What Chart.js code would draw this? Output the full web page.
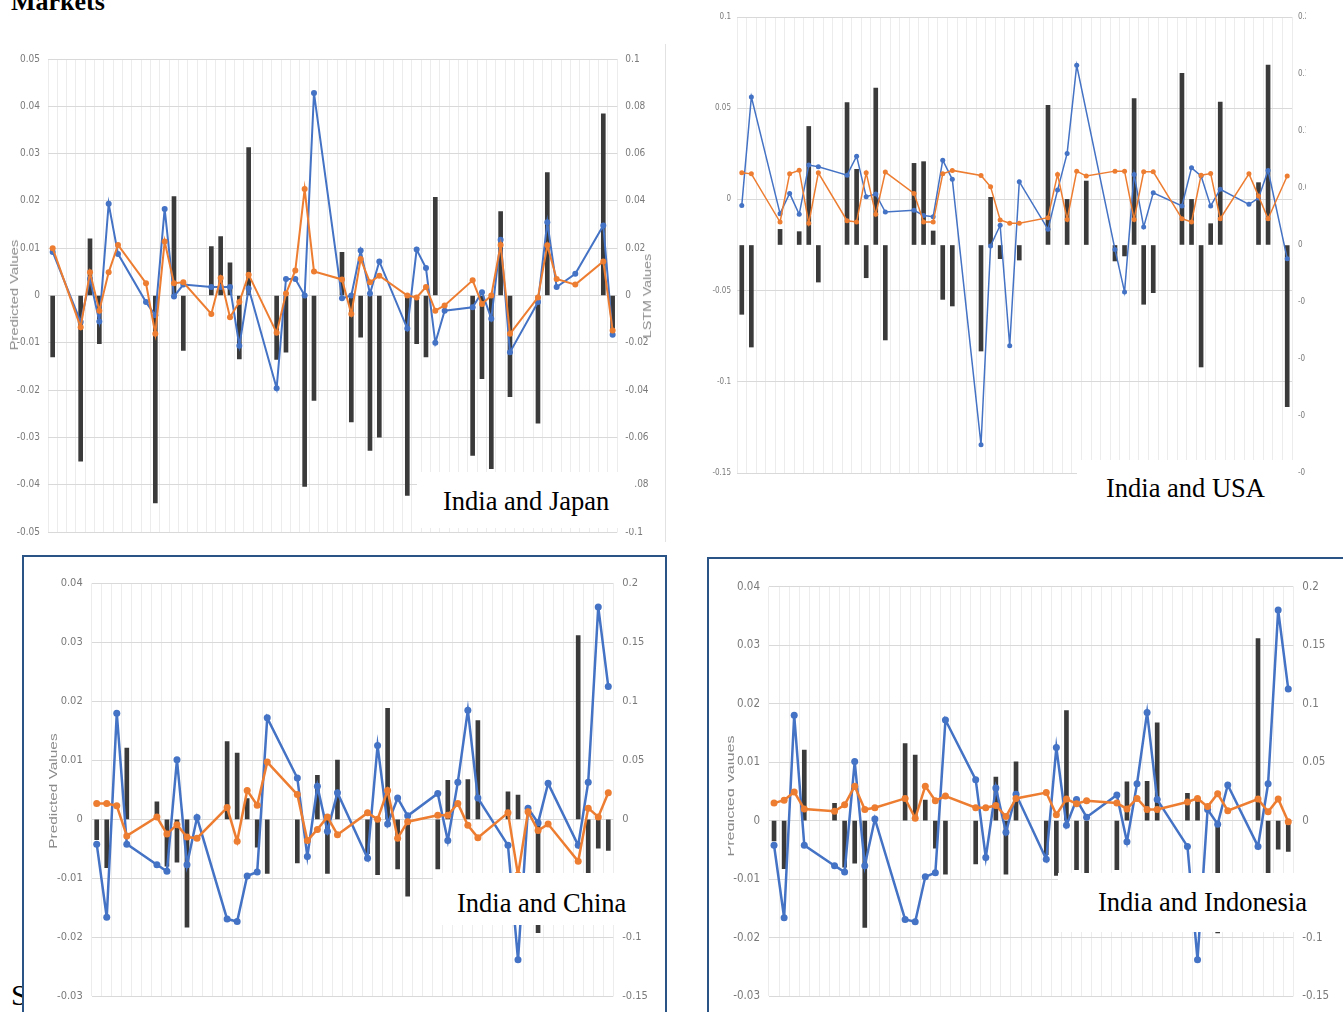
<!DOCTYPE html>
<html>
<head>
<meta charset="utf-8">
<script src="https://cdn.jsdelivr.net/npm/chart.js@4.4.1/dist/chart.umd.min.js"></script>
<style>
  html, body { margin: 0; padding: 0; }
  body { width: 1343px; height: 1012px; overflow: hidden; position: relative; background: #fff; }
  .abs { position: absolute; }
  canvas { position: absolute; }
  .frame { position: absolute; box-sizing: border-box; border: 2px solid #2a5485; background: #fff; }
  .box { position: absolute; background: #fff; }
  .lbl { position: absolute; white-space: nowrap; font-family: 'Liberation Serif', 'Times New Roman', serif; font-size: 26.5px; line-height: 26.5px; color: #000; }
  .vt { position: absolute; white-space: nowrap; text-align: center; font-family: 'Liberation Sans', Arial, sans-serif; color: #8a8a8a; }
</style>
</head>
<body>

<div class="abs" style="left:11px; top:-11px; font-family:'Liberation Serif',serif; font-weight:bold; font-size:26px; line-height:26px; color:#000;">Markets</div>
<div class="abs" style="left:11px; top:980px; font-family:'Liberation Serif',serif; font-size:30px; line-height:30px; color:#000;">S</div>

<div class="abs" style="left:665px; top:44px; width:1px; height:498px; background:#e2e2e2;"></div>
<div class="frame" style="left:22px; top:555px; width:645px; height:520px;"></div>
<div class="frame" style="left:707px; top:557px; width:700px; height:520px;"></div>

<canvas id="japan" width="660" height="510" style="left:0px; top:40px; width:660px; height:510px;"></canvas>
<canvas id="usa" width="616" height="520" style="left:690px; top:0px; width:616px; height:520px;"></canvas>
<canvas id="china" width="639" height="454" style="left:25px; top:558px; width:639px; height:454px;"></canvas>
<canvas id="indonesia" width="633" height="453" style="left:710px; top:559px; width:633px; height:453px;"></canvas>

<!-- axis titles -->
<div class="vt" style="left:-45px; top:289px; width:120px; height:12px; font-size:10px; line-height:12px; transform:rotate(-90deg) scaleX(1.48);">Predicted Values</div>
<div class="vt" style="left:588px; top:290px; width:120px; height:12px; font-size:10px; line-height:12px; transform:rotate(-90deg) scaleX(1.42);">LSTM Values</div>
<div class="vt" style="left:-7px; top:784px; width:120px; height:14px; font-size:11px; line-height:14px; transform:rotate(-90deg) scaleX(1.4);">Predicted Values</div>
<div class="abs" style="left:728px; top:700px; width:20px; height:200px; overflow:hidden;">
  <div class="vt" style="left:-58px; top:89px; width:120px; height:14px; font-size:11px; line-height:14px; transform:rotate(-90deg) scaleX(1.47);">Predicted Values</div>
</div>

<!-- label boxes -->
<div class="box" style="left:417px; top:472px; width:217px; height:56px;"></div>
<div class="lbl" style="left:443px; top:488px;">India and Japan</div>
<div class="box" style="left:1077px; top:460px; width:216px; height:55px;"></div>
<div class="lbl" style="left:1106px; top:475px;">India and USA</div>
<div class="box" style="left:433px; top:873px; width:218px; height:52px;"></div>
<div class="lbl" style="left:457px; top:890px;">India and China</div>
<div class="box" style="left:1058px; top:873px; width:278px; height:59px;"></div>
<div class="lbl" style="left:1098px; top:889px;">India and Indonesia</div>

<script>
// ---------------- DATA ----------------
// India and Japan (61 trading-day slots; null = no observation)
const japanBlue = [0.0092,null,null,-0.0056,0.0035,-0.0055,0.0194,0.0088,null,null,
  -0.0014,-0.0042,0.0183,-0.0002,0.0023,null,null,0.0018,0.0018,0.0018,
  -0.0106,0.0015,null,null,-0.0196,0.0035,0.0035,0,0.0428,null,
  null,-0.0006,0,0.0095,0.0004,0.0072,null,null,-0.007,0.0097,
  0.0058,-0.01,-0.0032,null,null,-0.0025,0.0007,-0.0049,0.0118,-0.012,
  null,null,-0.0014,0.0155,0.0018,null,0.0046,null,null,0.0148,
  -0.0083];
const japanOrange = [0.010,null,null,-0.0067,0.0049,-0.0032,0.0049,0.0107,null,null,
  0.0026,-0.0081,0.0114,0.0026,0.0028,null,null,-0.0039,0.0037,-0.0046,
  -0.0014,0.0044,null,null,-0.0079,0.0004,0.0053,0.0225,0.0051,null,
  null,0.0034,-0.0039,0.0077,0.0028,0.0042,null,null,0,-0.0004,
  0.0018,-0.0032,-0.0021,null,null,0.0032,-0.0018,0,0.0107,-0.0081,
  null,null,-0.0004,0.0106,0.0035,null,0.0023,null,null,0.0072,
  -0.0074];
const japanBars = [-0.026,null,null,-0.070,0.024,-0.0204,null,null,null,null,
  null,-0.0877,null,0.0418,-0.0232,null,null,0.0207,0.0249,0.0138,
  -0.0268,0.0625,null,null,-0.027,-0.024,null,-0.0807,-0.0444,null,
  null,0.0183,-0.0535,-0.0176,-0.0655,-0.0599,null,null,-0.0845,-0.0204,
  -0.026,0.0415,null,null,null,-0.0676,-0.0352,-0.0732,0.0355,-0.0428,
  null,null,-0.054,0.052,null,null,null,null,null,0.0768,
  -0.017];

// India and USA (58 slots)
const usaBlue = [-0.0033,0.0562,null,null,-0.0078,0.0033,-0.0082,0.0188,0.0179,null,
  null,0.0133,0.0237,0.0015,0.0029,-0.0069,null,null,-0.006,-0.0088,
  -0.0095,0.0215,0.011,null,null,-0.1345,-0.0255,-0.0142,-0.0803,0.0097,
  null,null,-0.0164,0.0051,0.0252,0.0735,null,null,null,-0.0274,
  -0.0507,0.0137,-0.0151,0.0036,null,null,-0.0036,0.0173,0.0128,-0.0036,
  0.0055,null,null,-0.0027,0.0007,0.0159,null,-0.0325];
const usaOrange = [0.0146,0.014,null,null,-0.0124,0.014,0.016,-0.0131,0.0146,null,
  null,-0.0117,-0.0124,0.0146,-0.0082,0.015,null,null,0.0033,-0.0124,
  -0.0124,0.014,0.0159,null,null,0.0131,0.0069,-0.0113,-0.0131,-0.0131,
  null,null,-0.01,0.0137,-0.011,0.0155,0.0128,null,null,0.0155,
  0.0155,-0.011,0.0151,0.0151,null,null,-0.0106,-0.0124,0.0133,0.0142,
  -0.0106,null,null,0.014,0.0018,-0.0106,null,0.0128];
const usaBars = [-0.0608,-0.0895,null,null,0.0137,null,0.0117,0.104,-0.0325,null,
  null,0.1249,0.0664,-0.0287,0.1377,-0.0833,null,null,0.0716,0.0731,
  0.0123,-0.0477,-0.0535,null,null,-0.093,0.0418,-0.012,null,-0.0132,
  null,null,0.1225,null,0.04,null,0.0561,null,null,-0.014,
  -0.0096,0.1284,-0.052,-0.0418,null,null,0.1506,0.04,-0.107,0.0187,
  0.1254,null,null,null,0.0547,0.1579,null,-0.1418];

// India and China / India and Indonesia (52 slots; blue series and bars identical in both panels)
const asiaBlue = [-0.0042,-0.0166,0.018,-0.0042,null,null,-0.0077,-0.0088,0.0101,-0.0077,
  0.0003,null,null,-0.0169,-0.0173,-0.0096,-0.0089,0.0172,null,null,
  0.007,-0.0063,0.0056,-0.002,0.0045,null,null,-0.0066,0.0125,-0.0008,
  0.0036,0.0006,null,null,0.0044,-0.0036,0.0063,0.0185,0.0036,null,
  null,-0.0044,-0.0238,0.0019,-0.0006,0.0061,null,null,-0.0044,0.0063,
  0.036,0.0225];
const asiaBars = [-0.0173,-0.041,null,0.0603,null,null,0.0148,-0.0397,-0.0363,-0.0913,
  null,null,null,0.0659,0.0561,0.0176,-0.0235,-0.0458,null,null,
  -0.0369,null,0.0372,-0.0458,0.0503,null,null,-0.029,-0.0468,0.094,
  -0.042,-0.065,null,null,-0.042,0.0331,null,0.0337,0.0836,null,
  null,0.0233,0.0205,null,-0.0959,null,null,null,0.1556,-0.06,
  -0.0244,-0.0264];
const chinaOrange = [0.0027,0.0027,0.0023,-0.0028,null,null,0.0004,-0.0025,-0.0009,-0.003,
  -0.0032,null,null,0.002,-0.0037,0.0049,0.0024,0.0097,null,null,
  0.0042,-0.0036,-0.0017,0.0004,-0.0026,null,null,0.0011,0,0.0049,
  -0.0032,-0.0004,null,null,0.0007,0.0007,0.0027,-0.001,-0.0031,null,
  null,0.0011,-0.0094,0.0013,-0.0019,-0.0008,null,null,-0.0071,0.0019,
  0.0004,0.0045];
const indonesiaOrange = [0.003,0.0035,0.0049,0.002,null,null,0.0016,0.0027,0.0059,0.0019,
  0.0022,null,null,0.0038,0.0004,0.0059,0.0034,0.0042,null,null,
  0.0022,0.0022,0.0026,0.0007,0.0038,null,null,0.0048,0.001,0.0037,
  0.0029,0.0034,null,null,0.003,0.002,0.0038,0.0019,0.0019,null,
  null,0.0032,0.0038,0.0024,0.0046,0.0017,null,null,0.0037,0.0015,
  0.0037,-0.0002];

// axis ranges [min, max, step]
const japanLeftAxis = [-0.05, 0.05, 0.01],  japanRightAxis = [-0.1, 0.1, 0.02];
const usaLeftAxis   = [-0.15, 0.1, 0.05],  usaRightAxis   = [-0.2, 0.2, 0.05];
const asiaLeftAxis  = [-0.03, 0.04, 0.01], asiaRightAxis  = [-0.15, 0.2, 0.05];

// ---------------- DRAWING ----------------
const BLUE = '#4472C4', ORANGE = '#ED7D31', BAR = '#3a3a3a';
const TICK_FONT = "'Liberation Sans Narrow','DejaVu Sans Condensed','Liberation Sans',sans-serif";
const fmt = v => String(parseFloat(Number(v).toFixed(4)));

function panel(id, s) {
  const labels = s.blue.map((_, i) => 'D' + (i + 1));
  const lineDs = (data, color, order) => ({
    type: 'line', data, yAxisID: 'y', order,
    borderColor: color, backgroundColor: color,
    pointBackgroundColor: color, pointBorderColor: color,
    borderWidth: s.lw, pointRadius: s.pr, pointBorderWidth: 0, pointHoverRadius: s.pr,
    spanGaps: true, tension: 0
  });
  new Chart(document.getElementById(id), {
    type: 'bar',
    data: {
      labels,
      datasets: [
        lineDs(s.orange, ORANGE, 0),
        lineDs(s.blue, BLUE, 1),
        { type: 'bar', data: s.bars, yAxisID: 'y1', order: 2,
          backgroundColor: BAR, barThickness: s.bw, borderWidth: 0 }
      ]
    },
    options: {
      responsive: false, animation: false, devicePixelRatio: 1,
      layout: { padding: { left: 0, right: 0, top: s.pt, bottom: s.pb } },
      plugins: { legend: { display: false }, tooltip: { enabled: false } },
      events: [],
      scales: {
        x: {
          offset: true,
          grid: { offset: true, color: '#ececec', lineWidth: 1, drawTicks: false },
          border: { display: false },
          ticks: { display: false }
        },
        y: {
          position: 'left', min: s.left[0], max: s.left[1],
          ticks: { stepSize: s.left[2], padding: s.tp, color: '#7a7a7a',
                   font: { family: TICK_FONT, size: s.fs }, callback: fmt },
          grid: { color: '#d9d9d9', lineWidth: 1, drawTicks: false },
          border: { display: false },
          afterFit: sc => { sc.width = s.lwid; }
        },
        y1: {
          position: 'right', min: s.right[0], max: s.right[1],
          ticks: { stepSize: s.right[2], padding: s.tp, color: '#7a7a7a',
                   font: { family: TICK_FONT, size: s.fs }, callback: fmt },
          grid: { drawOnChartArea: false, drawTicks: false },
          border: { display: false },
          afterFit: sc => { sc.width = s.rwid; }
        }
      }
    }
  });
}

panel('japan', { blue: japanBlue, orange: japanOrange, bars: japanBars,
  left: japanLeftAxis, right: japanRightAxis,
  lwid: 48, rwid: 42.7, pt: 19, pb: 18, fs: 10, tp: 8, lw: 2, pr: 3, bw: 4 });
panel('usa', { blue: usaBlue, orange: usaOrange, bars: usaBars,
  left: usaLeftAxis, right: usaRightAxis,
  lwid: 47, rwid: 14, pt: 17, pb: 47, fs: 8, tp: 6, lw: 1.5, pr: 2.5, bw: 4 });
panel('china', { blue: asiaBlue, orange: chinaOrange, bars: asiaBars,
  left: asiaLeftAxis, right: asiaRightAxis,
  lwid: 66.7, rwid: 50.7, pt: 25.3, pb: 11, fs: 11, tp: 9, lw: 2.5, pr: 3.5, bw: 4 });
panel('indonesia', { blue: asiaBlue, orange: indonesiaOrange, bars: asiaBars,
  left: asiaLeftAxis, right: asiaRightAxis,
  lwid: 59, rwid: 49.7, pt: 27.7, pb: 9.7, fs: 11.5, tp: 9, lw: 2.5, pr: 3.5, bw: 4 });
</script>
</body>
</html>
